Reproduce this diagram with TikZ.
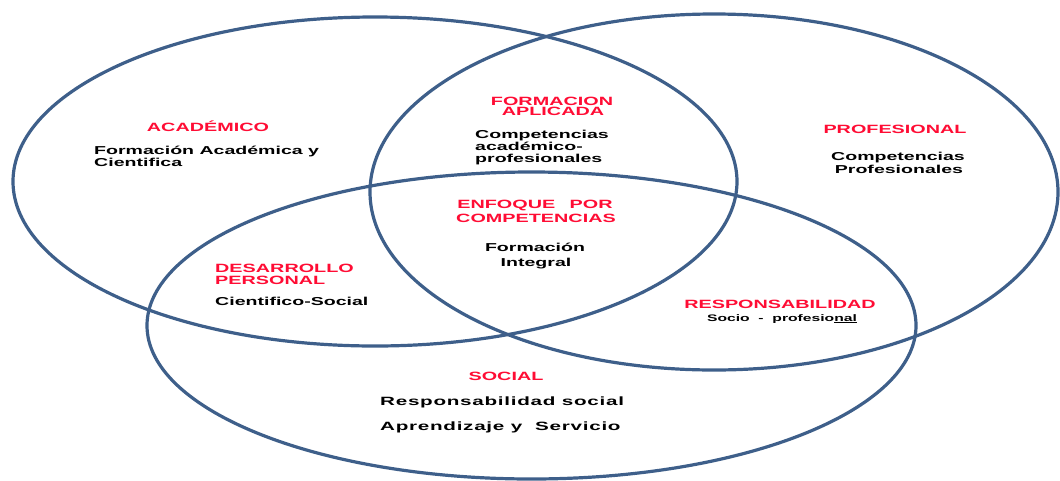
\documentclass[tikz,border=0pt]{standalone}
\usepackage{fontspec}
\setmainfont{Liberation Sans}[FakeStretch=1.65]
\newfontfamily\bodyfont{Liberation Sans}[FakeStretch=1.7]
\newfontfamily\widefont{Liberation Sans}[FakeStretch=1.72,LetterSpace=6]
\definecolor{ringblue}{RGB}{62,95,138}
\definecolor{headred}{RGB}{255,12,52}
\begin{document}
\begin{tikzpicture}[x=1pt,y=-1pt,
  ring/.style={draw=ringblue,line width=3.2pt},
  head/.style={inner sep=0pt,text=headred,font=\fontsize{12}{14}\selectfont\bfseries},
  body/.style={inner sep=0pt,text=black,font=\bodyfont\fontsize{11.5}{12.5}\selectfont\bfseries},
  widebody/.style={inner sep=0pt,text=black,font=\widefont\fontsize{12}{13}\selectfont\bfseries},
  small/.style={inner sep=0pt,text=black,font=\fontsize{9.5}{11}\selectfont\bfseries}]
\useasboundingbox (0,0) rectangle (1060,480);

% three overlapping areas
\draw[ring] (375,181.5) ellipse [x radius=362, y radius=164.5];
\draw[ring] (714,192) ellipse [x radius=344, y radius=178];
\draw[ring] (531.5,325.5) ellipse [x radius=384.5, y radius=153.5];

% academic area
\node[head,anchor=base] (acadH) at (208,131) {ACADÉMICO};
\node[body,anchor=base west] (acad1) at (94,154) {Formación Académica y};
\node[body,anchor=base west] (acad2) at (94,166) {Cientifica};

% academic / professional overlap
\node[head,anchor=base] (aplH1) at (552,105) {FORMACION};
\node[head,anchor=base] (aplH2) at (553,115) {APLICADA};
\node[body,anchor=base west] (apl1) at (475,138) {Competencias};
\node[body,anchor=base west] (apl2) at (475,150) {académico-};
\node[body,anchor=base west] (apl3) at (475,162) {profesionales};

% centre
\node[head,anchor=base] (cenH1) at (535,208) {ENFOQUE\hspace{1.2em}POR};
\node[head,anchor=base] (cenH2) at (536,222) {COMPETENCIAS};
\node[body,anchor=base] (cen1) at (535,251) {Formación};
\node[body,anchor=base] (cen2) at (536,266) {Integral};

% professional area
\node[head,anchor=base] (proH) at (895,133) {PROFESIONAL};
\node[body,anchor=base] (pro1) at (898,160) {Competencias};
\node[body,anchor=base] (pro2) at (899,173) {Profesionales};

% academic / social overlap
\node[head,anchor=base west] (desH1) at (215,272) {DESARROLLO};
\node[head,anchor=base west] (desH2) at (215,284) {PERSONAL};
\node[body,anchor=base west] (des1) at (215,305) {Cientifico-Social};

% professional / social overlap
\node[head,anchor=base] (resH) at (780,308) {RESPONSABILIDAD};
\node[small,anchor=base] (res1) at (782,321) {Socio\ \ -\ \ profesio\underline{nal}};

% social area
\node[head,anchor=base] (socH) at (506,380) {SOCIAL};
\node[widebody,anchor=base west] (soc1) at (380,405) {Responsabilidad social};
\node[widebody,anchor=base west] (soc2) at (380,430) {Aprendizaje y\ \ Servicio};
\end{tikzpicture}
\end{document}
